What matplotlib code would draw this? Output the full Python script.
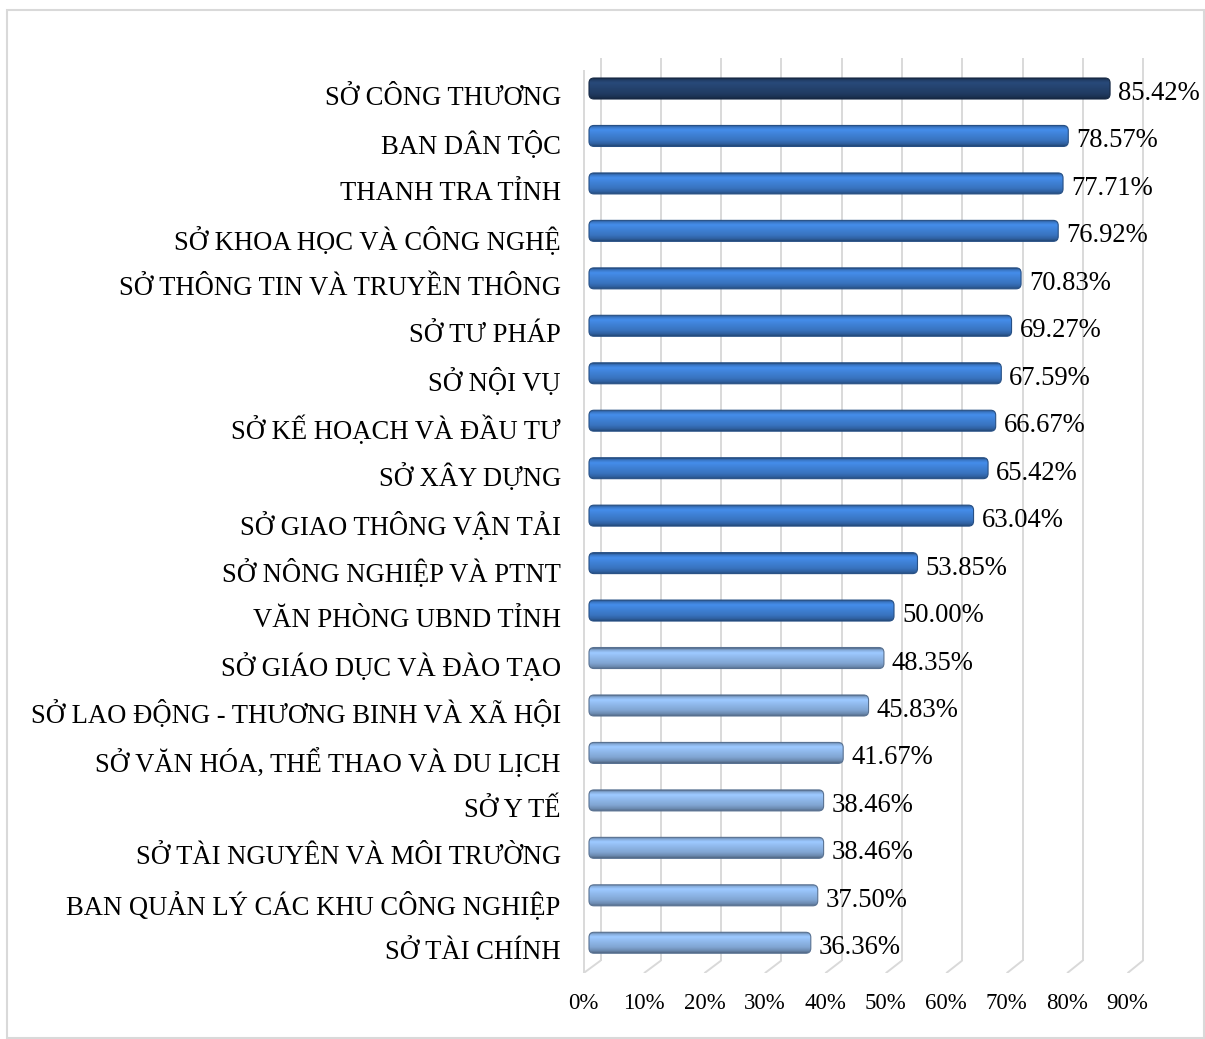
import numpy as np
import matplotlib
matplotlib.use("Agg")
import matplotlib.pyplot as plt
from matplotlib.patches import FancyBboxPatch, Rectangle
from matplotlib.colors import to_rgb

plt.rcParams['font.family'] = ['Liberation Serif', 'DejaVu Serif']

# dữ liệu
don_vi = [
    "SỞ CÔNG THƯƠNG",
    "BAN DÂN TỘC",
    "THANH TRA TỈNH",
    "SỞ KHOA HỌC VÀ CÔNG NGHỆ",
    "SỞ THÔNG TIN VÀ TRUYỀN THÔNG",
    "SỞ TƯ PHÁP",
    "SỞ NỘI VỤ",
    "SỞ KẾ HOẠCH VÀ ĐẦU TƯ",
    "SỞ XÂY DỰNG",
    "SỞ GIAO THÔNG VẬN TẢI",
    "SỞ NÔNG NGHIỆP VÀ PTNT",
    "VĂN PHÒNG UBND TỈNH",
    "SỞ GIÁO DỤC VÀ ĐÀO TẠO",
    "SỞ LAO ĐỘNG - THƯƠNG BINH VÀ XÃ HỘI",
    "SỞ VĂN HÓA, THỂ THAO VÀ DU LỊCH",
    "SỞ Y TẾ",
    "SỞ TÀI NGUYÊN VÀ MÔI TRƯỜNG",
    "BAN QUẢN LÝ CÁC KHU CÔNG NGHIỆP",
    "SỞ TÀI CHÍNH",
]
ty_le = [85.42, 78.57, 77.71, 76.92, 70.83, 69.27, 67.59, 66.67, 65.42,
         63.04, 53.85, 50.00, 48.35, 45.83, 41.67, 38.46, 38.46, 37.50, 36.36]
nhom = [0] + [1] * 11 + [2] * 7          # 0: cao nhất, 1: >= 50%, 2: < 50%
tick_pct = [0, 10, 20, 30, 40, 50, 60, 70, 80, 90]

mau_nhom = {0: "#23406A", 1: "#3C7BCC", 2: "#89B0E0"}
mau_luoi = "#D9D9D9"

W, H = 1205, 1039
fig = plt.figure(figsize=(W / 100, H / 100), dpi=100)

# khung ngoài
fig.patches.append(Rectangle((7 / W, 1 - 1038 / H), 1197 / W, 1028 / H,
                             transform=fig.transFigure, fill=False,
                             edgecolor=mau_luoi, linewidth=1.5))

x0_px = 589.0   # gốc thanh (mặt trước)
px_x = 610.0    # pixel / 1.0 (100%) theo chiều dài thanh
px_luoi = 602.6 # pixel / 1.0 trên tường sau
px_y = 47.46    # pixel / hạng mục
x_lo, x_hi = -0.03, 0.95
y_lo, y_hi = -0.64, 18.64
left_px = x0_px + x_lo * px_x
top_px = 88.5 + y_lo * px_y
bot_px = 88.5 + y_hi * px_y
ax = fig.add_axes([left_px / W, 1 - bot_px / H,
                   (x_hi - x_lo) * px_x / W, (bot_px - top_px) / H])

v = np.array(ty_le) / 100
y = np.arange(len(don_vi))


def luoi_x(k, goc_px, buoc_px):
    return (goc_px - x0_px + buoc_px * k / 100) / px_x


# lưới 3D: tường sau + sàn nghiêng
y_san_sau = (960.5 - 88.5) / px_y
y_san_truoc = y_hi
for k in tick_pct:
    xb = luoi_x(k, 600.7, px_luoi)
    xf = luoi_x(k, 583.5, 604.5)
    ax.plot([xb, xb], [y_lo, y_san_sau], color=mau_luoi, lw=1.4, zorder=1,
            solid_capstyle='butt')
    ax.plot([xb, xf], [y_san_sau, y_san_truoc], color=mau_luoi, lw=1.4,
            zorder=1, solid_capstyle='butt')
x_trai = luoi_x(0, 583.5, 604.5)
ax.plot([x_trai, x_trai], [(70 - 88.5) / px_y, y_san_truoc],
        color=mau_luoi, lw=1.4, zorder=1, solid_capstyle='butt')

# thanh ngang với hiệu ứng trụ tròn
bar_h = 21 / px_y
bars = ax.barh(y, v, height=bar_h, color="none", zorder=2)
t_mau = [0.0, 0.08, 0.22, 0.42, 0.72, 0.9, 1.0]
f_mau = [0.60, 0.95, 1.15, 1.06, 0.94, 0.78, 0.58]
tt = np.linspace(0, 1, 64)
ff = np.interp(tt, t_mau, f_mau)
r = 5 / px_x
aspect = (5 / px_y) / r
for rect, g in zip(bars, nhom):
    bx, by = rect.get_x(), rect.get_y()
    w, h = rect.get_width(), rect.get_height()
    base = np.array(to_rgb(mau_nhom[g]))
    patch = FancyBboxPatch((bx, by), w, h,
                           boxstyle=f"round,pad=0,rounding_size={r}",
                           mutation_aspect=aspect, facecolor="none",
                           edgecolor=base * 0.65, linewidth=0.8, zorder=4)
    ax.add_patch(patch)
    img = np.clip(base[None, :] * ff[:, None], 0, 1)[:, None, :]
    im = ax.imshow(img, extent=(bx, bx + w, by + h, by), aspect='auto',
                   interpolation='bilinear', zorder=3)
    im.set_clip_path(patch)
    rect.set_visible(False)

# nhãn giá trị
for yi, vi in zip(y, v):
    ax.text(vi + 8 / px_x, yi + 5 / px_y, f"{vi * 100:.2f}%",
            va='center', ha='left', fontsize=19.2, color='black', zorder=5)

ax.set_xlim(x_lo, x_hi)
ax.set_ylim(y_hi, y_lo)

ax.set_yticks(y + 7 / px_y)
ax.set_yticklabels(don_vi, fontsize=19.2)
ax.set_xticks([luoi_x(k, 583.5, 604.5) for k in tick_pct])
ax.set_xticklabels([f"{k}%" for k in tick_pct], fontsize=16.5)
ax.tick_params(axis='y', length=0, pad=7.1)
ax.tick_params(axis='x', length=0, pad=14)
for s in ax.spines.values():
    s.set_visible(False)
ax.set_facecolor("none")

fig.savefig("out.png", dpi=100)
